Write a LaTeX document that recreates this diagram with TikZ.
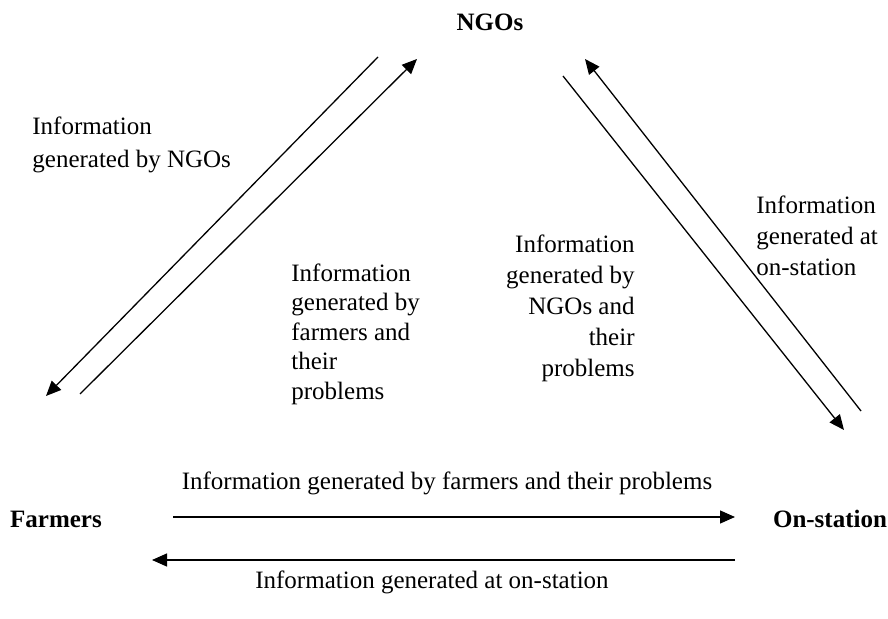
\documentclass[tikz,border=0pt]{standalone}
\usepackage{fontspec}
\setmainfont{Liberation Serif}
\usetikzlibrary{arrows.meta}
\tikzstyle{party} = [font=\fontsize{12.5}{15}\selectfont\bfseries, inner sep=0pt]
\tikzstyle{info} = [font=\fontsize{12.5}{15.5}\selectfont, inner sep=0pt]
\tikzstyle{line} = [draw, line width=0.65pt, -{Triangle[length=7.5pt,width=6.5pt]}]

\begin{document}
\begin{tikzpicture}[x=0.5pt,y=-0.5pt]
\useasboundingbox (0,0) rectangle (888,619);

\node [party] (ngo) at (490,22) {NGOs};
\node [party] (farmers) at (56,519) {Farmers};
\node [party] (station) at (830,519) {On-station};

% end points of the arrows
\coordinate (fn1) at (378,57);
\coordinate (fn2) at (46,396);
\coordinate (nf1) at (80,394);
\coordinate (nf2) at (417,59);
\coordinate (ns1) at (563,76);
\coordinate (ns2) at (844,430);
\coordinate (sn1) at (861,411);
\coordinate (sn2) at (585,59);
\coordinate (fs1) at (173,517);
\coordinate (fs2) at (735,517);
\coordinate (sf1) at (735,560);
\coordinate (sf2) at (152,560);

\path [line] (fn1) -- (fn2);
\path [line] (nf1) -- (nf2);
\path [line] (ns1) -- (ns2);
\path [line] (sn1) -- (sn2);
\path [line] (fs1) -- (fs2);
\path [line] (sf1) -- (sf2);

% labels
\node [info, align=left, anchor=north west, font=\fontsize{12.5}{16.5}\selectfont] (lbl_ngo) at (32,117) {Information\\generated by NGOs};
\node [info, align=left, anchor=north west, font=\fontsize{12.5}{14.8}\selectfont] (lbl_farm) at (291,263) {Information\\generated by\\farmers and\\their\\problems};
\node [info, align=right, anchor=north east] (lbl_ngo2) at (635,235) {Information\\generated by\\NGOs and\\their\\problems};
\node [info, align=left, anchor=north west] (lbl_stat) at (756,196) {Information\\generated at\\on-station};
\node [info] (lbl_fs) at (447,483) {Information generated by farmers and their problems};
\node [info] (lbl_sf) at (432,582) {Information generated at on-station};

\end{tikzpicture}
\end{document}
